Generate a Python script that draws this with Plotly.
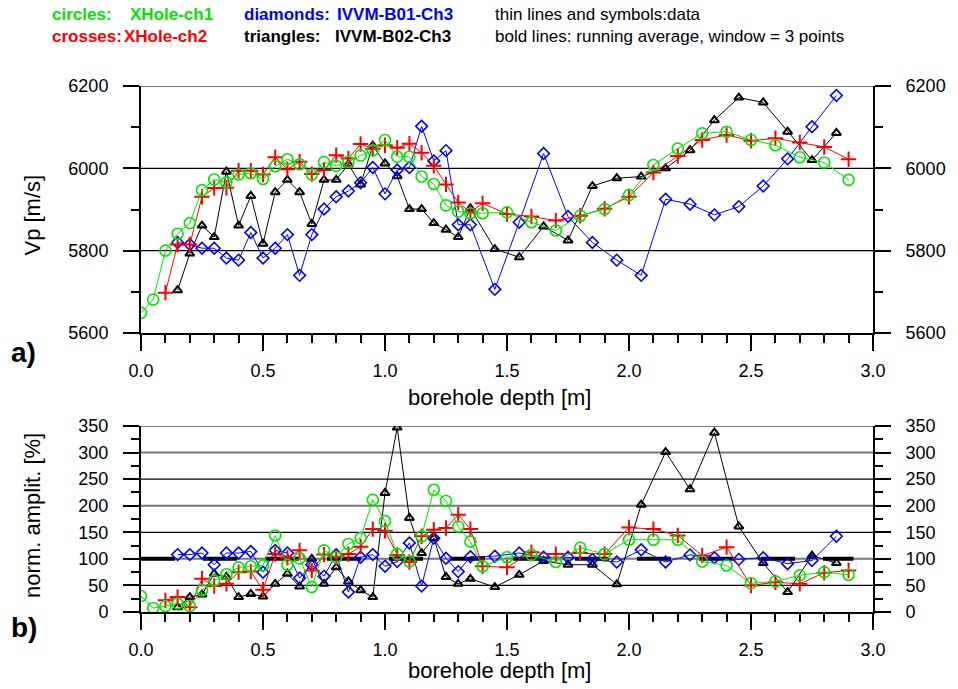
import plotly.graph_objects as go

# ---------------- data ----------------
DEPTH_CIRCLES = [0.0, 0.05, 0.1, 0.15, 0.2, 0.25, 0.3, 0.35, 0.4, 0.45, 0.5, 0.55, 0.6, 0.65, 0.7,
                 0.75, 0.8, 0.85, 0.9, 0.95, 1.0, 1.05, 1.1, 1.15, 1.2, 1.25, 1.3, 1.35, 1.4,
                 1.5, 1.6, 1.7, 1.8, 1.9, 2.0, 2.1, 2.2, 2.3, 2.4, 2.5, 2.6, 2.7, 2.8, 2.9]
VP_CIRCLES = [5649, 5681, 5800, 5841, 5867, 5947, 5973, 5966, 5985, 5988, 5974, 6005, 6022, 6010, 5985,
              6015, 6006, 6016, 6031, 6044, 6069, 6028, 6028, 5980, 5962, 5910, 5895, 5891, 5891,
              5893, 5869, 5849, 5885, 5901, 5935, 6008, 6048, 6085, 6089, 6069, 6056, 6027, 6014, 5972]
AMP_CIRCLES = [30, 7.5, 11, 16, 11, 41, 59, 71, 84, 86, 87.5, 144, 89, 101, 47,
               116, 103, 128, 139, 211, 171, 109, 95, 142.5, 230, 209, 161, 132.5, 86,
               103, 107.5, 94, 121, 109, 136, 136, 136, 95, 87.5, 54, 57.5, 69, 75, 70]

DEPTH_CROSSES = [0.1, 0.15, 0.2, 0.25, 0.3, 0.35, 0.4, 0.45, 0.5, 0.55, 0.6, 0.65, 0.7,
                 0.75, 0.8, 0.85, 0.9, 0.95, 1.0, 1.05, 1.1, 1.15, 1.2, 1.25, 1.3, 1.35, 1.4,
                 1.5, 1.6, 1.7, 1.8, 1.9, 2.0, 2.1, 2.2, 2.3, 2.4, 2.5, 2.6, 2.7, 2.8, 2.9]
VP_CROSSES = [5698, 5815, 5815, 5931, 5952, 5953, 5994, 5994, 5985, 6027, 5998, 6016, 5986,
              5996, 6032, 6024, 6059, 6047, 6056, 6050, 6060, 6038, 6006, 5961, 5917, 5893, 5915,
              5889, 5883, 5873, 5885, 5902, 5931, 5990, 6030, 6069, 6081, 6067, 6073, 6063, 6052, 6022]
AMP_CROSSES = [22, 28, 9, 62.5, 49, 53, 75, 76, 42, 109, 102, 116, 78,
               108, 103, 109, 123, 156, 153, 107.5, 94, 142.5, 155, 158, 183, 156, 86,
               84, 112.5, 109, 111, 109, 159, 156, 144, 106, 122, 50, 56, 53, 74, 78]

DEPTH_IVVM = [0.15, 0.2, 0.25, 0.3, 0.35, 0.4, 0.45, 0.5, 0.55, 0.6, 0.65, 0.7, 0.75, 0.8,
              0.85, 0.9, 0.95, 1.0, 1.05, 1.1, 1.15, 1.2, 1.25, 1.3, 1.35,
              1.45, 1.55, 1.65, 1.75, 1.85, 1.95, 2.05, 2.15, 2.25, 2.35, 2.45, 2.55, 2.65, 2.75, 2.85]
VP_DIAMONDS = [5820, 5815, 5806, 5806, 5782, 5777, 5844, 5782, 5806, 5839, 5740, 5839, 5901, 5931,
               5945, 5965, 6002, 5938, 5996, 6002, 6102, 6018, 6043, 5863, 5863,
               5706, 5869, 6036, 5883, 5820, 5777, 5740, 5925, 5913, 5887, 5907, 5957, 6023, 6101, 6177]
AMP_DIAMONDS = [108, 108, 111, 89, 111, 111, 114, 75, 116, 111, 64, 89, 67.5, 108,
                37.5, 103, 108, 86, 95, 130, 49, 139, 101, 76, 104,
                105, 111, 103, 103, 99, 94, 117, 94, 107.5, 102, 99, 102, 91, 97, 142.5]
VP_TRIANGLES = [5704, 5793, 5861, 5833, 5992, 5861, 5933, 5817, 5942, 5972, 5942, 5865, 5972, 5972,
                6010, 5961, 6055, 6012, 5981, 5901, 5901, 5867, 5851, 5833, 5903,
                5804, 5784, 5859, 5825, 5957, 5976, 5980, 6000, 6044, 6117, 6172, 6160, 6089, 6020, 6086]
AMP_TRIANGLES = [9, 28, 33, 72, 66, 28, 34, 29, 53, 72, 48, 100, 53, 84,
                 57.5, 41, 28, 224, 347, 177, 111, 139, 66, 53, 62.5,
                 47, 70, 96, 89, 89, 52, 202, 301, 231, 337.5, 161, 92, 37.5, 106, 92]

REF_DEPTH = [0.0, 2.92]
REF_LEVEL = [100, 100]

X_TICKS = [0.0, 0.5, 1.0, 1.5, 2.0, 2.5, 3.0]
X_TICKTEXT = ["0.0", "0.5", "1.0", "1.5", "2.0", "2.5", "3.0"]
VP_TICKS = [5600, 5800, 6000, 6200]
AMP_TICKS = [0, 50, 100, 150, 200, 250, 300, 350]
VP_GRID_BLACK = [5800, 6000]
VP_GRID_GRAY = [6200]
AMP_GRID_BLACK = [50, 150, 250, 350]
AMP_GRID_GRAY = [100, 200, 300]

GREEN = "rgb(0,230,0)"
RED = "rgb(255,0,0)"
BLUE = "rgb(0,0,255)"
BLACK = "black"

FONT = "Liberation Sans, Arial, sans-serif"

fig = go.Figure()

series = [
    (DEPTH_IVVM, VP_TRIANGLES, AMP_TRIANGLES, BLACK, "triangle-up-open", 8, 2),
    (DEPTH_IVVM, VP_DIAMONDS, AMP_DIAMONDS, BLUE, "diamond-open", 9, 1.6),
    (DEPTH_CROSSES, VP_CROSSES, AMP_CROSSES, RED, "cross-thin-open", 11, 2),
    (DEPTH_CIRCLES, VP_CIRCLES, AMP_CIRCLES, GREEN, "circle-open", 11, 1.6),
]

# reference bold line (bottom)
fig.add_trace(go.Scatter(x=REF_DEPTH, y=REF_LEVEL, mode="lines", xaxis="x2", yaxis="y2",
                         line=dict(color="black", width=4, dash="34px,28px"),
                         showlegend=False, hoverinfo="skip"))

for d, vp, amp, col, sym, sz, lw in series:
    fig.add_trace(go.Scatter(x=d, y=vp, mode="lines+markers", xaxis="x", yaxis="y",
                             line=dict(color=col, width=1),
                             marker=dict(symbol=sym, size=sz, color=col, line=dict(color=col, width=lw)),
                             showlegend=False))
    fig.add_trace(go.Scatter(x=d, y=amp, mode="lines+markers", xaxis="x2", yaxis="y2",
                             line=dict(color=col, width=1),
                             marker=dict(symbol=sym, size=sz, color=col, line=dict(color=col, width=lw)),
                             showlegend=False))

# dummy traces for right axes
fig.add_trace(go.Scatter(x=[], y=[], xaxis="x", yaxis="y3", showlegend=False))
fig.add_trace(go.Scatter(x=[], y=[], xaxis="x2", yaxis="y4", showlegend=False))

tickfont = dict(family=FONT, size=18, color="black")

xcommon = dict(range=[0, 3], tickvals=X_TICKS, ticktext=X_TICKTEXT, ticks="outside", ticklen=16,
               tickwidth=2, tickcolor="black", showline=True, linecolor="black", linewidth=2,
               showgrid=False, zeroline=False, tickfont=tickfont, ticklabelstandoff=4,
               minor=dict(dtick=0.1, tick0=0, ticks="outside", ticklen=8, tickwidth=2, tickcolor="black",
                          showgrid=False))

def ycommon(rng, ticks, minor_dt, side):
    return dict(range=rng, tickvals=ticks, ticks="outside", ticklen=16, tickwidth=2, tickcolor="black",
                showline=True, linecolor="black", linewidth=2, showgrid=False, zeroline=False,
                tickfont=tickfont, side=side, ticklabelstandoff=11,
                minor=dict(dtick=minor_dt, tick0=rng[0], ticks="outside", ticklen=8, tickwidth=2,
                           tickcolor="black", showgrid=False))

TOP_DOM = [0.5304, 1.0]
BOT_DOM = [0.0, 0.3536]

fig.update_layout(
    width=958, height=689,
    margin=dict(l=141, r=74, t=86, b=77),
    plot_bgcolor="white", paper_bgcolor="white",
    showlegend=False,
    xaxis=dict(domain=[0, 1], anchor="y", **xcommon),
    xaxis2=dict(domain=[0, 1], anchor="y2", **xcommon),
    yaxis=dict(domain=TOP_DOM, anchor="x", **ycommon([5600, 6200], VP_TICKS, 100, "left")),
    yaxis3=dict(overlaying="y", anchor="x", **ycommon([5600, 6200], VP_TICKS, 100, "right")),
    yaxis2=dict(domain=BOT_DOM, anchor="x2", **ycommon([0, 350], AMP_TICKS, 25, "left")),
    yaxis4=dict(overlaying="y2", anchor="x2", **ycommon([0, 350], AMP_TICKS, 25, "right")),
)

shapes = []
for v in VP_GRID_BLACK:
    shapes.append(dict(type="line", xref="x domain", yref="y", x0=0, x1=1, y0=v, y1=v,
                       line=dict(color="black", width=1.2), layer="below"))
for v in VP_GRID_GRAY:
    shapes.append(dict(type="line", xref="x domain", yref="y", x0=0, x1=1, y0=v, y1=v,
                       line=dict(color="rgb(120,120,120)", width=2), layer="below"))
for v in AMP_GRID_BLACK:
    shapes.append(dict(type="line", xref="x2 domain", yref="y2", x0=0, x1=1, y0=v, y1=v,
                       line=dict(color="black", width=1.2), layer="below"))
for v in AMP_GRID_GRAY:
    shapes.append(dict(type="line", xref="x2 domain", yref="y2", x0=0, x1=1, y0=v, y1=v,
                       line=dict(color="rgb(120,120,120)", width=2), layer="below"))
fig.update_layout(shapes=shapes)

ann = []
def txt(text, x, y, size, color="black", bold=False, xanchor="left", angle=0):
    t = "<b>%s</b>" % text if bold else text
    ann.append(dict(text=t, x=x, y=y, xref="paper", yref="paper", showarrow=False,
                    xanchor=xanchor, yanchor="middle", textangle=angle,
                    font=dict(family=FONT, size=size, color=color)))

LEG = 17
txt("circles:", -0.1238, 1.135, LEG, GREEN, True)
txt("XHole-ch1", -0.0175, 1.135, LEG, GREEN, True)
txt("crosses:", -0.1238, 1.095, LEG, RED, True)
txt("XHole-ch2", -0.0256, 1.095, LEG, RED, True)
txt("diamonds:", 0.1386, 1.135, LEG, BLUE, True)
txt("IVVM-B01-Ch3", 0.2651, 1.135, LEG, BLUE, True)
txt("triangles:", 0.1386, 1.095, LEG, BLACK, True)
txt("IVVM-B02-Ch3", 0.2624, 1.095, LEG, BLACK, True)
txt("thin lines and symbols:data", 0.4805, 1.135, LEG)
txt("bold lines: running average, window = 3 points", 0.4805, 1.095, LEG)

txt("a)", -0.160, 0.494, 28, bold=True, xanchor="center")
txt("b)", -0.160, -0.030, 28, bold=True, xanchor="center")
txt("Vp [m/s]", -0.148, 0.755, 22, xanchor="center", angle=-90)
txt("norm. amplit. [%]", -0.148, 0.184, 22, xanchor="center", angle=-90)
txt("borehole depth [m]", 0.49, 0.408, 22, xanchor="center")
txt("borehole depth [m]", 0.49, -0.112, 22, xanchor="center")
fig.update_layout(annotations=ann)

fig.write_html("out.html")
